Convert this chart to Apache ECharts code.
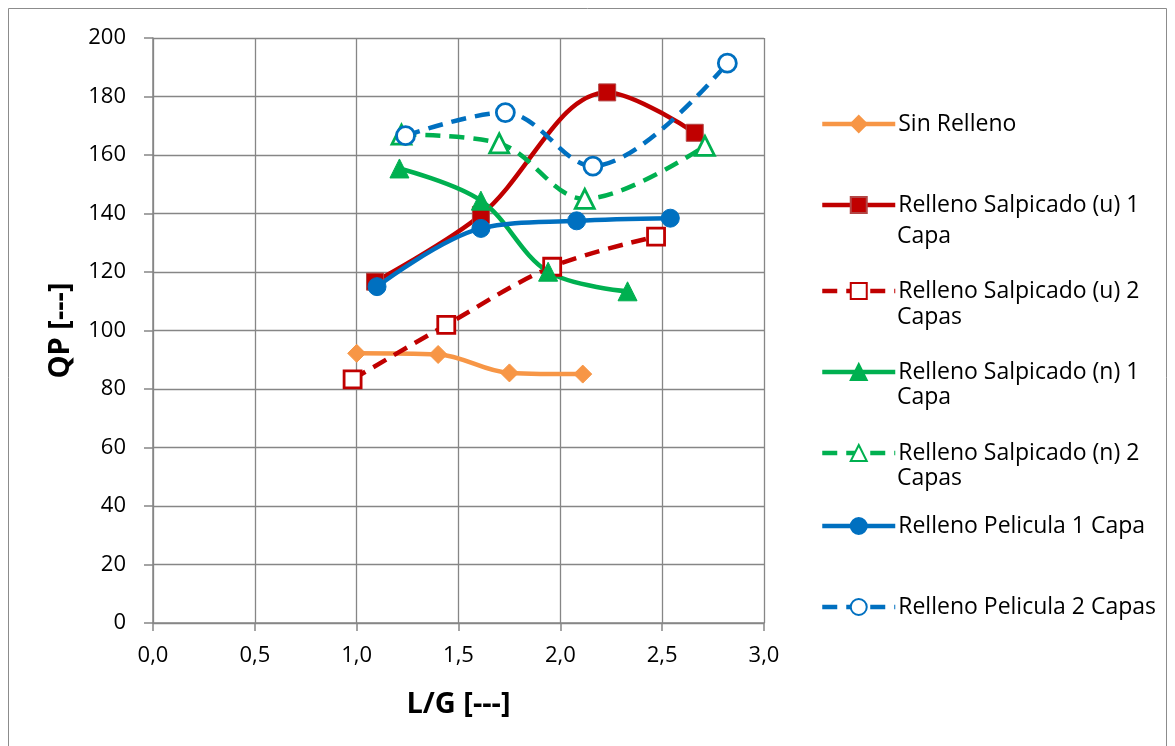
<!DOCTYPE html>
<html>
<head>
<meta charset="utf-8">
<script src="https://cdn.jsdelivr.net/npm/echarts@6/dist/echarts.min.js"></script>
<style>
  html, body { margin: 0; padding: 0; background: #fff; }
  #chart { width: 1175px; height: 746px; }
</style>
</head>
<body>
<div id="chart"></div>
<script>
// L/G vs QP measurements, one pair of arrays per packing type
const sinRellenoX = [1.00, 1.40, 1.75, 2.11];
const sinRellenoY = [92.2, 91.8, 85.5, 85.1];

const salpU1X = [1.09, 1.61, 2.23, 2.66];
const salpU1Y = [116.7, 139.5, 181.4, 167.6];

const salpU2X = [0.98, 1.44, 1.96, 2.47];
const salpU2Y = [83.3, 101.9, 121.8, 132.1];

const salpN1X = [1.21, 1.61, 1.94, 2.33];
const salpN1Y = [155.4, 144.4, 120.1, 113.4];

const salpN2X = [1.22, 1.70, 2.12, 2.71];
const salpN2Y = [167.0, 164.0, 145.0, 163.1];

const pel1X = [1.10, 1.61, 2.08, 2.54];
const pel1Y = [115.0, 134.9, 137.5, 138.4];

const pel2X = [1.24, 1.73, 2.16, 2.82];
const pel2Y = [166.6, 174.5, 156.2, 191.4];

const xTicks = { min: 0, max: 3, step: 0.5 };
const yTicks = { min: 0, max: 200, step: 20 };

const FONT = '"Open Sans", Lato, "Noto Sans", sans-serif';
const LINE_W = 4.5;
const DASH = [15, 9];
const pairs = (xs, ys) => xs.map((x, i) => [x, ys[i]]);

const chart = echarts.init(document.getElementById('chart'));

function lineSeries(name, xs, ys, color, symbol, size, hollow, dashed) {
  return {
    name: name,
    type: 'line',
    data: pairs(xs, ys),
    smooth: 0.35,
    symbol: symbol,
    symbolSize: size,
    showAllSymbol: true,
    lineStyle: { color: color, width: LINE_W, type: dashed ? DASH : 'solid' },
    itemStyle: hollow
      ? { color: '#ffffff', borderColor: color, borderWidth: 2.8 }
      : { color: color, borderColor: color, borderWidth: 1 },
    emphasis: { disabled: true },
    animation: false
  };
}

const series = [
  lineSeries('Sin Relleno', sinRellenoX, sinRellenoY, '#F79646', 'diamond', 18, false, false),
  lineSeries('Relleno Salpicado (u) 1', salpU1X, salpU1Y, '#C00000', 'rect', 17, false, false),
  lineSeries('Relleno Salpicado (u) 2', salpU2X, salpU2Y, '#C00000', 'rect', 17, true, true),
  lineSeries('Relleno Salpicado (n) 1', salpN1X, salpN1Y, '#00B050', 'triangle', 19, false, false),
  lineSeries('Relleno Salpicado (n) 2', salpN2X, salpN2Y, '#00B050', 'triangle', 19, true, true),
  lineSeries('Relleno Pelicula 1 Capa', pel1X, pel1Y, '#0070C0', 'circle', 18, false, false),
  lineSeries('Relleno Pelicula 2 Capas', pel2X, pel2Y, '#0070C0', 'circle', 18, true, true)
];
series[1].itemStyle.borderColor = '#B24645';

// legend rows: icon centre heights on the right side
const legendRows = [124, 205, 291, 372, 453, 526, 607];
const legends = series.map((s, i) => ({
  data: [s.name],
  left: 820,
  top: legendRows[i] - 14,
  orient: 'vertical',
  padding: 0,
  itemWidth: 73,
  itemHeight: 20,
  itemGap: 0,
  selectedMode: false,
  lineStyle: { color: s.lineStyle.color, width: LINE_W, type: s.lineStyle.type },
  textStyle: { fontFamily: FONT, fontSize: 23, color: '#000', padding: [0, 0, 0, -2], lineHeight: 28 }
}));

// continuation lines of the wrapped legend labels
const wrapped = [['Capa', 235], ['Capas', 316], ['Capa', 396], ['Capas', 477]];
const graphics = wrapped.map(([t, y]) => ({
  type: 'text', left: 897, top: y - 10,
  style: { text: t, font: '23px ' + FONT, fill: '#000' }
}));
graphics.push({
  type: 'rect', shape: { x: 8.5, y: 8.5, width: 1158, height: 745 },
  style: { fill: 'none', stroke: '#8c8c8c', lineWidth: 1 }, silent: true, z: -1
});

const fmtComma = v => v.toFixed(1).replace('.', ',');

chart.setOption({
  backgroundColor: '#ffffff',
  animation: false,
  grid: { left: 153, right: 411, top: 38, bottom: 123, containLabel: false },
  xAxis: {
    type: 'value',
    min: xTicks.min, max: xTicks.max, interval: xTicks.step,
    name: 'L/G [---]', nameLocation: 'middle', nameGap: 67,
    nameTextStyle: { fontFamily: FONT, fontSize: 29, fontWeight: 'bold', color: '#000' },
    axisLine: { lineStyle: { color: '#868686', width: 1.5 } },
    axisTick: { show: true, length: 8, lineStyle: { color: '#868686', width: 1.5 } },
    axisLabel: { formatter: fmtComma, fontFamily: FONT, fontSize: 22, color: '#000', margin: 22 },
    splitLine: { show: true, lineStyle: { color: '#868686', width: 1.3 } }
  },
  yAxis: {
    type: 'value',
    min: yTicks.min, max: yTicks.max, interval: yTicks.step,
    name: 'QP [---]', nameLocation: 'middle', nameGap: 78, nameRotate: 90,
    nameTextStyle: { fontFamily: FONT, fontSize: 29, fontWeight: 'bold', color: '#000' },
    axisLine: { show: true, lineStyle: { color: '#868686', width: 1.5 } },
    axisTick: { show: true, length: 9, lineStyle: { color: '#868686', width: 1.5 } },
    axisLabel: { fontFamily: FONT, fontSize: 22, color: '#000', margin: 27 },
    splitLine: { show: true, lineStyle: { color: '#868686', width: 1.3 } }
  },
  legend: legends,
  graphic: graphics,
  series: series
});
</script>
</body>
</html>
